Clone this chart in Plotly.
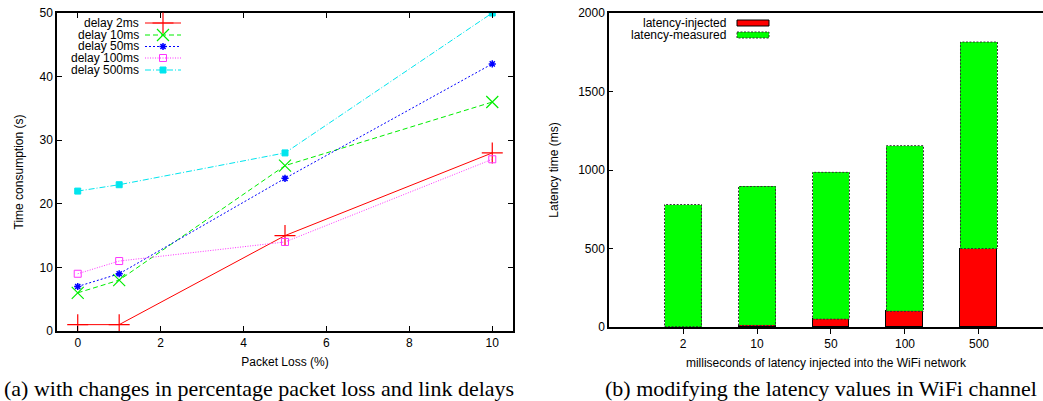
import plotly.graph_objects as go

# ---------------- data ----------------
packet_loss = [0, 1, 5, 10]
delay_2ms = [1, 1, 15, 28]
delay_10ms = [6, 8, 26, 36]
delay_50ms = [7, 9, 24, 42]
delay_100ms = [9, 11, 14, 27]
delay_500ms = [22, 23, 28, 50]
series_names = ["delay 2ms", "delay 10ms", "delay 50ms", "delay 100ms", "delay 500ms"]

latency_labels = ["2", "10", "50", "100", "500"]
latency_injected = [2, 10, 50, 100, 500]
latency_measured = [778, 885, 935, 1055, 1315]   # stacked segment above injected

W, H = 1043, 401
FONT = "Liberation Sans, Arial, Helvetica, sans-serif"
SERIF = "Liberation Serif, Times New Roman, serif"

def px(x):
    return x / W

def py(y):
    return 1 - y / H

fig = go.Figure()

styles = [
    dict(color="#ff0000", dash="solid", symbol="cross-thin-open", size=15, mlw=1.2),
    dict(color="#00ee00", dash="5px,3px", symbol="x-thin-open", size=12, mlw=1.2),
    dict(color="#0000ff", dash="2px,2px", symbol="asterisk-open", size=6, mlw=1.5),
    dict(color="#ff33ff", dash="1px,1.5px", symbol="square-open", size=7, mlw=1),
    dict(color="#00e5ee", dash="6px,2px,1px,2px", symbol="square", size=6, mlw=1),
]
all_series = [delay_2ms, delay_10ms, delay_50ms, delay_100ms, delay_500ms]

for name, ys, st in zip(series_names, all_series, styles):
    fig.add_trace(go.Scatter(
        x=packet_loss, y=ys, name=name, mode="lines+markers",
        line=dict(color=st["color"], width=1, dash=st["dash"]),
        marker=dict(symbol=st["symbol"], size=st["size"], color=st["color"],
                    line=dict(color=st["color"], width=st["mlw"])),
        xaxis="x", yaxis="y", showlegend=False,
    ))

# ---------------- bars ----------------
xi = list(range(len(latency_labels)))
bw = 0.5
fig.add_trace(go.Bar(
    x=xi, y=latency_injected, width=bw, name="latency-injected",
    marker=dict(color="#ff0000", line=dict(color="black", width=1)),
    xaxis="x2", yaxis="y2", showlegend=False,
))
fig.add_trace(go.Bar(
    x=xi, y=latency_measured, width=bw, name="latency-measured",
    marker=dict(color="#00ff00", line=dict(width=0)),
    xaxis="x2", yaxis="y2", showlegend=False,
))
# dashed outlines of the measured segments, derived from the data
ox, oy = [], []
for i, inj, meas in zip(xi, latency_injected, latency_measured):
    x0, x1 = i - bw / 2, i + bw / 2
    y0, y1 = inj, inj + meas
    ox += [x0, x1, x1, x0, x0, None]
    oy += [y0, y0, y1, y1, y0, None]
fig.add_trace(go.Scatter(
    x=ox, y=oy, mode="lines", line=dict(color="#333333", width=1, dash="2px,1.5px"),
    xaxis="x2", yaxis="y2", showlegend=False, hoverinfo="skip",
))

# ---------------- custom legends (pixel overlay) ----------------
leg_rows = [23, 35, 46.5, 58, 70]
for name, yy, st in zip(series_names, leg_rows, styles):
    fig.add_trace(go.Scatter(
        x=[145, 181], y=[yy, yy], mode="lines",
        line=dict(color=st["color"], width=1, dash=st["dash"]),
        xaxis="x3", yaxis="y3", showlegend=False, hoverinfo="skip",
    ))
    fig.add_trace(go.Scatter(
        x=[163], y=[yy], mode="markers",
        marker=dict(symbol=st["symbol"], size=st["size"], color=st["color"],
                    line=dict(color=st["color"], width=st["mlw"])),
        xaxis="x3", yaxis="y3", showlegend=False, hoverinfo="skip",
    ))
    fig.add_annotation(x=px(141), y=py(yy), xref="paper", yref="paper", text=name,
                       showarrow=False, xanchor="right", yanchor="middle",
                       font=dict(family=FONT, size=12, color="black"))

bar_leg = [("latency-injected", "#ff0000", "solid", 23),
           ("latency-measured", "#00ff00", "2px,1.5px", 35)]
for name, col, dash, yy in bar_leg:
    fig.add_shape(type="rect", xref="paper", yref="paper",
                  x0=px(737), x1=px(769), y0=py(yy - 3), y1=py(yy + 3),
                  fillcolor=col, line=dict(color="black" if dash == "solid" else "#333333",
                                           width=1, dash=dash))
    fig.add_annotation(x=px(728), y=py(yy), xref="paper", yref="paper", text=name,
                       showarrow=False, xanchor="right", yanchor="middle",
                       font=dict(family=FONT, size=12, color="black"))

# ---------------- captions ----------------
fig.add_annotation(x=px(259), y=py(388), xref="paper", yref="paper",
                   text="(a) with changes in percentage packet loss and link delays",
                   showarrow=False, xanchor="center", yanchor="middle",
                   font=dict(family=SERIF, size=22, color="black"))
fig.add_annotation(x=px(821), y=py(388), xref="paper", yref="paper",
                   text="(b) modifying the latency values in WiFi channel",
                   showarrow=False, xanchor="center", yanchor="middle",
                   font=dict(family=SERIF, size=22, color="black"))

tickfont = dict(family=FONT, size=12, color="black")
titlefont = dict(family=FONT, size=12, color="black")

fig.update_layout(
    width=W, height=H,
    margin=dict(l=0, r=0, t=0, b=0, autoexpand=False),
    paper_bgcolor="white", plot_bgcolor="rgba(0,0,0,0)",
    barmode="stack", bargap=0,
    showlegend=False,
    xaxis=dict(domain=[px(57), px(513)], range=[-0.5, 10.5], tickvals=[0, 2, 4, 6, 8, 10],
               ticks="inside", ticklen=5, tickwidth=1, tickcolor="black",
               showline=True, linecolor="black", linewidth=1.5, mirror="allticks",
               showgrid=False, zeroline=False, tickfont=tickfont, automargin=False,
               title=dict(text="Packet Loss (%)", font=titlefont, standoff=8),
               anchor="y"),
    yaxis=dict(domain=[py(331), py(13)], range=[0, 50], tickvals=[0, 10, 20, 30, 40, 50],
               ticks="inside", ticklen=5, tickwidth=1, tickcolor="black",
               showline=True, linecolor="black", linewidth=1.5, mirror="allticks",
               showgrid=False, zeroline=False, tickfont=tickfont, automargin=False,
               title=dict(text="Time consumption (s)", font=titlefont, standoff=13),
               anchor="x"),
    xaxis2=dict(domain=[px(609), 1.0], range=[-1, 4.865], tickvals=xi, ticktext=latency_labels,
                ticks="outside", ticklen=5, tickwidth=1, tickcolor="black",
                showline=True, linecolor="black", linewidth=1.5, mirror=True,
                showgrid=False, zeroline=False, tickfont=tickfont, automargin=False,
                title=dict(text="milliseconds of latency injected into the WiFi network",
                           font=titlefont, standoff=8),
                anchor="y2"),
    yaxis2=dict(domain=[py(327), py(13)], range=[0, 2000], tickvals=[0, 500, 1000, 1500, 2000],
                ticks="inside", ticklen=4, tickwidth=1, tickcolor="black",
                showline=True, linecolor="black", linewidth=1.5, mirror=False,
                showgrid=False, zeroline=False, tickfont=tickfont, automargin=False,
                title=dict(text="Latency time (ms)", font=titlefont, standoff=17),
                anchor="x2"),
    xaxis3=dict(domain=[0, 1], range=[0, W], visible=False, anchor="y3", automargin=False),
    yaxis3=dict(domain=[0, 1], range=[H, 0], visible=False, anchor="x3", automargin=False),
)

fig.write_html("out.html", config={"displayModeBar": False},
               post_script="document.body.style.margin='0';document.body.style.overflow='hidden';")
